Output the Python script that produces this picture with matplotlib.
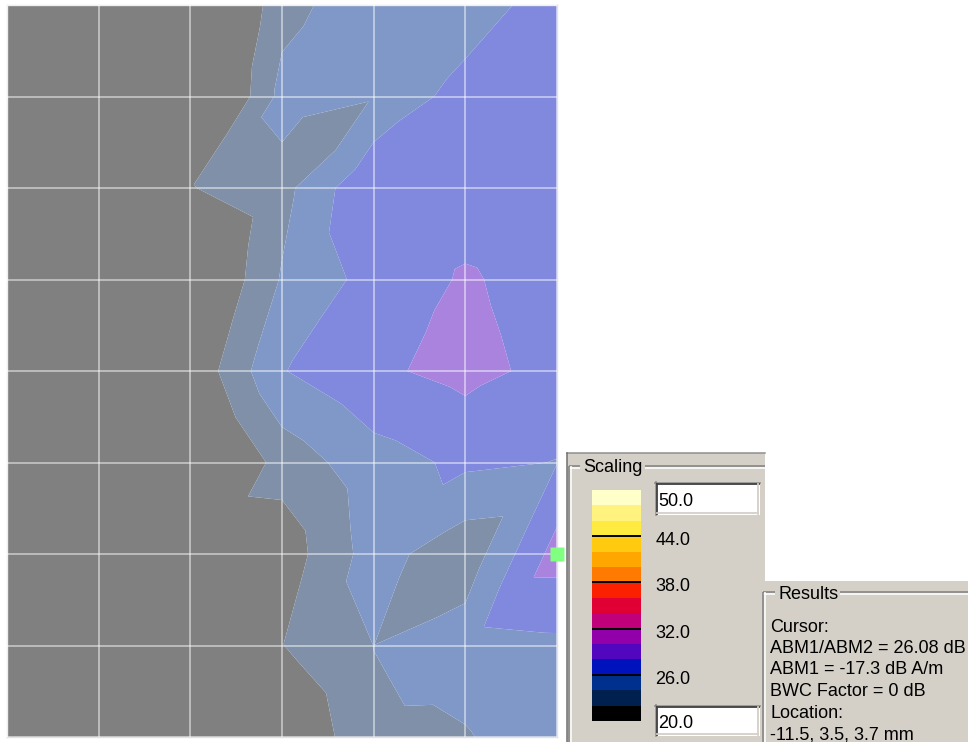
import numpy as np
import matplotlib
matplotlib.use("Agg")
import matplotlib.pyplot as plt
import matplotlib.tri as mtri
from matplotlib.colors import to_rgb
from matplotlib.patches import Rectangle
from matplotlib.transforms import ScaledTranslation

plt.rcParams['font.family'] = ['Liberation Sans', 'DejaVu Sans']

# field (dB) read at the grid nodes, 9 rows (top to bottom) x 7 columns
node_vals = [
    [16, 16, 17.0, 23.30, 25.30, 24.60, 27.30],
    [16, 16, 17.0, 24.66, 24.10, 26.98, 27.30],
    [16, 16, 21.9, 23.34, 27.90, 27.00, 27.40],
    [16, 16, 18.8, 24.18, 26.75, 28.21, 27.18],
    [16, 16, 20.3, 25.90, 27.65, 28.60, 27.40],
    [16, 16, 18.2, 22.80, 25.20, 26.40, 25.95],
    [16, 16, 18.0, 20.85, 24.90, 22.60, 28.86],
    [16, 16, 18.0, 21.95, 24.01, 25.21, 25.55],
    [16, 16, 17.0, 19.50, 23.83, 23.81, 25.60],
]
# field (dB) read at the centre of each grid cell, 8 rows x 6 columns
centre_vals = [
    [16, 16, 20.60, 24.80, 24.50, 27.14],
    [16, 16, 23.20, 23.20, 27.60, 27.20],
    [16, 17, 21.22, 25.95, 27.30, 27.40],
    [16, 17, 22.30, 26.34, 27.90, 27.83],
    [16, 17, 22.05, 25.33, 26.86, 26.75],
    [16, 17, 21.72, 23.10, 25.58, 24.30],
    [16, 17, 20.00, 23.40, 23.25, 27.17],
    [16, 17, 19.50, 22.10, 24.08, 25.30],
]

levels = [20, 22, 24, 26, 28, 30, 32, 34, 36, 38, 40, 42, 44, 46, 48, 50]
band_colors = ['#000000', '#002050', '#00308e', '#0012bc', '#5206bd',
               '#9200aa', '#c0007a', '#e00034', '#fa2000', '#ff7a00',
               '#ffa600', '#ffca10', '#ffea40', '#fff27e', '#ffffca']
labelled_levels = [26, 32, 38, 44]
scale_max = "50.0"
scale_min = "20.0"

cursor_col, cursor_row = 6, 6
results_lines = ["Cursor:", "ABM1/ABM2 = 26.08 dB", "ABM1 = -17.3 dB A/m",
                 "BWC Factor = 0 dB", "Location:", "-11.5, 3.5, 3.7 mm"]

W, H = 968, 742
panel = '#d4d0c8'
fs = 13

fig = plt.figure(figsize=(W / 100, H / 100), dpi=100)
fig.patch.set_facecolor('white')

# overlay in screen pixels for the dialog parts
ui = fig.add_axes([0, 0, 1, 1])
ui.set_xlim(0, W)
ui.set_ylim(H, 0)
ui.set_axis_off()
ui.patch.set_visible(False)

ui.add_patch(Rectangle((567, 453), 198, 289, facecolor=panel, edgecolor='none'))
ui.add_patch(Rectangle((765, 581), 203, 161, facecolor=panel, edgecolor='none'))
ui.plot([567, 765], [453, 453], color='#909090', lw=1.1)
ui.plot([567, 567], [453, 742], color='#707070', lw=1.1)


def etched(xs, ys):
    ui.plot(xs, ys, color='#808080', lw=1.1, solid_capstyle='butt')
    if xs[0] == xs[1]:
        ui.plot([x + 1.5 for x in xs], ys, color='white', lw=1.1, solid_capstyle='butt')
    else:
        ui.plot(xs, [y + 1.5 for y in ys], color='white', lw=1.1, solid_capstyle='butt')


# group boxes
etched([569, 580], [466, 466])
etched([645, 765], [466, 466])
etched([569, 569], [466, 742])
ui.text(583, 472, "Scaling", fontsize=fs, va='baseline', ha='left')

etched([763, 775], [592, 592])
etched([840, 968], [592, 592])
etched([763, 763], [592, 742])
ui.text(778, 599, "Results", fontsize=fs, va='baseline', ha='left')


def entry_box(x0, y0, x1, y1, label):
    ui.add_patch(Rectangle((x0, y0), x1 - x0, y1 - y0, facecolor='white', edgecolor='none'))
    ui.plot([x0, x1], [y0 + 0.7, y0 + 0.7], color='#808080', lw=1.1)
    ui.plot([x0 + 0.7, x0 + 0.7], [y0, y1], color='#808080', lw=1.1)
    ui.plot([x0 + 1.5, x1 - 1.5], [y0 + 2.2, y0 + 2.2], color='#404040', lw=1.3)
    ui.plot([x0 + 2.2, x0 + 2.2], [y0 + 1.5, y1 - 1.5], color='#404040', lw=1.3)
    ui.plot([x0 + 1.5, x1 - 2], [y1 - 2.2, y1 - 2.2], color=panel, lw=1.3)
    ui.plot([x1 - 2.2, x1 - 2.2], [y0 + 1.5, y1 - 1.5], color=panel, lw=1.3)
    ui.text(x0 + 3, y1 - 8.5, label, fontsize=fs, va='baseline', ha='left')


entry_box(655, 482, 760, 515, scale_max)
entry_box(655, 705, 760, 736, scale_min)

for k, line in enumerate(results_lines):
    ui.text(770, 631.5 + 21.5 * k, line, fontsize=fs, va='baseline', ha='left')

# colour scale
ax_cb = fig.add_axes([592 / W, 1 - 721 / H, 49 / W, 231 / H])
ax_cb.bar([0.5] * len(band_colors), np.diff(levels), bottom=levels[:-1],
          width=1.0, color=band_colors, linewidth=0)
ax_cb.hlines(labelled_levels, 0, 1, color='black', lw=1.4)
ax_cb.set_xlim(0, 1)
ax_cb.set_ylim(levels[0], levels[-1])
ax_cb.set_axis_off()
shift = ax_cb.transData + ScaledTranslation(0, -0.09, fig.dpi_scale_trans)
for lev in labelled_levels:
    ax_cb.text(1.29, lev, f"{lev:.1f}", transform=shift, fontsize=fs,
               va='baseline', ha='left', clip_on=False)

# field map
V = np.array(node_vals, dtype=float)
C = np.array(centre_vals, dtype=float)
nrow, ncol = V.shape
jj, ii = np.mgrid[0:nrow, 0:ncol]
cj, ci = np.mgrid[0:nrow - 1, 0:ncol - 1]
xs = np.concatenate([ii.ravel(), ci.ravel() + 0.5])
ys = np.concatenate([jj.ravel(), cj.ravel() + 0.5])
zs = np.concatenate([V.ravel(), C.ravel()])
tris = []
for j in range(nrow - 1):
    for i in range(ncol - 1):
        tl = j * ncol + i
        tr, bl = tl + 1, tl + ncol
        br = bl + 1
        c = nrow * ncol + j * (ncol - 1) + i
        tris += [[tl, tr, c], [tr, br, c], [br, bl, c], [bl, tl, c]]
tri = mtri.Triangulation(xs, ys, tris)

# the map shows the scale at half strength over white
map_colors = [tuple(0.5 * v + 0.5 for v in to_rgb(c)) for c in band_colors]

ax = fig.add_axes([7 / W, 1 - 737 / H, 550 / W, 732 / H])
ax.set_facecolor('white')
ax.tricontourf(tri, zs, levels=[0] + levels[1:], colors=map_colors, antialiased=True)
ax.set_xlim(0, ncol - 1)
ax.set_ylim(nrow - 1, 0)
ax.set_xticks(range(ncol))
ax.set_yticks(range(nrow))
ax.tick_params(length=0, labelbottom=False, labelleft=False)
ax.grid(True, color='white', alpha=0.6, lw=1.1)
ax.set_axisbelow(False)
for s in ax.spines.values():
    s.set_color('#e2e2e2')
    s.set_linewidth(1.0)
ax.plot(cursor_col, cursor_row, marker='s', ms=10, color='#80ff80', mec='none',
        clip_on=False, zorder=6)

fig.savefig('out.png', dpi=100)
